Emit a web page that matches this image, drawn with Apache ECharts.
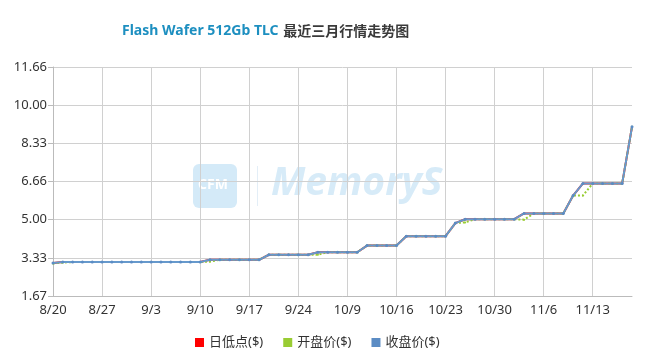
<!DOCTYPE html>
<html><head><meta charset="utf-8">
<script src="https://cdn.jsdelivr.net/npm/echarts@6/dist/echarts.min.js"></script>
<style>html,body{margin:0;padding:0;background:#fff}#c{width:660px;height:358px}</style>
</head><body><div id="c"></div>
<script>
const categories = ['8/20','8/21','8/22','8/23','8/26','8/27','8/28','8/29','8/30','9/2','9/3','9/4','9/5','9/6','9/9','9/10','9/11','9/12','9/13','9/16','9/17','9/18','9/19','9/20','9/23','9/24','9/25','9/26','9/27','9/30','10/9','10/10','10/11','10/14','10/15','10/16','10/17','10/18','10/21','10/22','10/23','10/24','10/25','10/28','10/29','10/30','10/31','11/1','11/4','11/5','11/6','11/7','11/8','11/11','11/12','11/13','11/14','11/15','11/18','11/19'];
const closeValues = [3.11,3.15,3.15,3.15,3.15,3.15,3.15,3.15,3.15,3.15,3.15,3.15,3.15,3.15,3.15,3.15,3.25,3.25,3.25,3.25,3.25,3.25,3.47,3.47,3.47,3.47,3.47,3.58,3.58,3.58,3.58,3.58,3.87,3.87,3.87,3.87,4.28,4.28,4.28,4.28,4.28,4.85,5.02,5.02,5.02,5.02,5.02,5.02,5.27,5.27,5.27,5.27,5.27,6.05,6.58,6.58,6.58,6.58,6.58,9.05];
const openValues = [3.09,3.13,3.15,3.15,3.15,3.15,3.15,3.15,3.15,3.15,3.15,3.15,3.15,3.15,3.15,3.15,3.17,3.25,3.25,3.25,3.25,3.25,3.47,3.47,3.47,3.47,3.47,3.47,3.58,3.58,3.58,3.58,3.87,3.87,3.87,3.87,4.28,4.28,4.28,4.28,4.28,4.85,4.88,5.02,5.02,5.02,5.02,5.02,5.00,5.27,5.27,5.27,5.27,6.05,6.05,6.58,6.58,6.58,6.58,9.05];
const lowValues = [3.11,3.15,3.15,3.15,3.15,3.15,3.15,3.15,3.15,3.15,3.15,3.15,3.15,3.15,3.15,3.15,3.25,3.25,3.25,3.25,3.25,3.25,3.47,3.47,3.47,3.47,3.47,3.58,3.58,3.58,3.58,3.58,3.87,3.87,3.87,3.87,4.28,4.28,4.28,4.28,4.28,4.85,5.02,5.02,5.02,5.02,5.02,5.02,5.27,5.27,5.27,5.27,5.27,6.05,6.58,6.58,6.58,6.58,6.58,9.05];
const yTickLabels = ['1.67','3.33','5.00','6.66','8.33','10.00','11.66'];
const seriesNames = ['日低点($)','开盘价($)','收盘价($)'];

const yMin = 1.67, yMax = 11.66, yStep = (yMax - yMin) / (yTickLabels.length - 1);
const FONT = "'Noto Sans','Noto Sans CJK SC',sans-serif";
const chart = echarts.init(document.getElementById('c'));
chart.setOption({
  animation: false,
  textStyle: {fontFamily: FONT},
  title: {
    left: 117, top: 17,
    text: '{a|Flash Wafer 512Gb TLC} {b|最近三月行情走势图}',
    textStyle: {
      rich: {
        a: {color: '#1d8fc0', fontSize: 14, fontWeight: 'bold', fontFamily: FONT},
        b: {color: '#3a3a3a', fontSize: 14, fontWeight: 'bold', fontFamily: "'Noto Sans CJK SC',sans-serif"}
      }
    }
  },
  graphic: [
    {type: 'rect', left: 193, top: 164, z: 0, shape: {width: 44, height: 44, r: 6}, style: {fill: '#d4eaf8'}},
    {type: 'text', left: 198, top: 178, z: 0, style: {text: 'CFM', fill: '#ffffff', font: 'bold 14px ' + FONT}},
    {type: 'rect', left: 257, top: 166, z: 0, shape: {width: 1, height: 40}, style: {fill: '#e3eef7'}},
    {type: 'text', left: 271, top: 164, z: 0, style: {text: 'MemoryS', fill: '#d7ebf8', font: 'italic bold 39px ' + FONT}}
  ],
  legend: {
    left: 190, top: 331, itemWidth: 9, itemHeight: 9, itemGap: 20, icon: 'rect',
    textStyle: {fontSize: 13, color: '#333', fontFamily: FONT},
    data: seriesNames
  },
  grid: {left: 53, right: 28, top: 67, bottom: 62, containLabel: false},
  xAxis: {
    type: 'category', data: categories, boundaryGap: false,
    axisLine: {lineStyle: {color: '#bbb'}},
    axisTick: {show: false},
    axisLabel: {interval: 4, color: '#333', fontSize: 13, margin: 8},
    splitLine: {show: true, interval: 4, lineStyle: {color: '#d0d0d0'}}
  },
  yAxis: {
    type: 'value', min: yMin, max: yMax, interval: yStep,
    axisLine: {show: true, lineStyle: {color: '#bbb'}},
    axisTick: {show: true, length: 5, lineStyle: {color: '#bbb'}},
    axisLabel: {color: '#333', fontSize: 13, margin: 6,
      formatter: v => yTickLabels[Math.round((v - yMin) / yStep)] || ''},
    splitLine: {lineStyle: {color: '#d0d0d0'}}
  },
  series: [
    {name: seriesNames[0], type: 'line', data: lowValues, color: '#ff0000', symbol: 'none', lineStyle: {width: 2}, z: 1},
    {name: seriesNames[1], type: 'line', data: openValues, color: '#66cc33', symbol: 'circle', symbolSize: 2,
      lineStyle: {width: 2, type: 'dotted', color: '#99cc33'}, itemStyle: {color: '#99cc33'}, z: 2},
    {name: seriesNames[2], type: 'line', data: closeValues, color: '#6699cc', symbol: 'circle', symbolSize: 3,
      lineStyle: {width: 2, color: '#6699cc'}, itemStyle: {color: '#5b8cc4'}, z: 3}
  ]
});
</script></body></html>
